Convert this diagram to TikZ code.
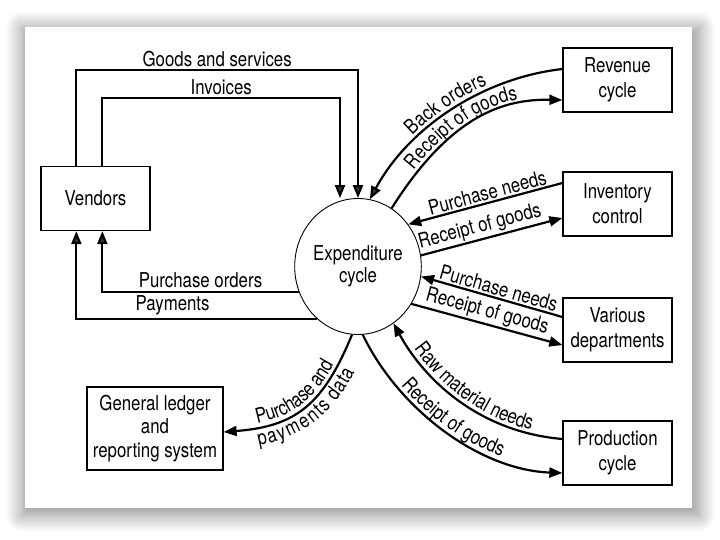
\documentclass[tikz,border=0pt]{standalone}
\usepackage{fontspec}
\setmainfont{TeX Gyre Heros}[FakeStretch=0.82]
\usetikzlibrary{arrows.meta,shapes.geometric,decorations.text,shadows.blur}
\newcommand\lblfont{\fontsize{20.5}{25}\selectfont}
\begin{document}
\begin{tikzpicture}[x=1pt,y=-1pt,
  box/.style={draw, line width=1.3pt, minimum width=109pt, minimum height=64pt, inner sep=0pt, align=center, font=\lblfont},
  flow/.style={line width=2.2pt, -{Triangle[length=13pt,width=10pt]}},
  lbl/.style={font=\lblfont, inner sep=1.5pt}]
\useasboundingbox (0,0) rectangle (720,540);
% panel with shadow
\fill[white, blur shadow={shadow xshift=2pt, shadow yshift=-4pt, shadow scale=1.015, shadow blur radius=16pt, shadow blur steps=16, shadow opacity=45}] (25,27) rectangle (692,508);

% nodes
\node[box] (vendors) at (95.5,198.5) {Vendors};
\node[box] (revenue) at (617.5,80) {Revenue\\cycle};
\node[box] (inventory) at (617.5,204) {Inventory\\control};
\node[box] (various) at (617.5,330) {Various\\departments};
\node[box] (production) at (617.5,453) {Production\\cycle};
\node[box, minimum width=136pt, minimum height=83pt, font=\fontsize{20.5}{23.5}\selectfont] (gl) at (155,428.5) {General ledger\\and\\reporting system};
\node[ellipse, draw, line width=0.9pt, minimum width=124pt, minimum height=136pt, inner sep=0pt, align=center, font=\fontsize{20.5}{22.5}\selectfont] (exp) at (358,266.5) {Expenditure\\cycle};

% vendor flows
\draw[flow] ([xshift=36pt]vendors.north west) |- (358,70) node[lbl, pos=0.75, above=1pt] {Goods and services} -- (exp.north);
\draw[flow] ([xshift=62pt]vendors.north west) |- (340,98) node[lbl, pos=0.75, above=1pt] {Invoices} -- ([xshift=-18pt]exp.north);
\draw[flow] (exp.203) -| node[lbl, pos=0.25, above=1pt] {Purchase orders} ([xshift=62pt]vendors.south west);
\draw[flow] (exp.232) -| node[lbl, pos=0.3, above=1pt] {Payments} ([xshift=36pt]vendors.south west);

% revenue cycle
\draw[flow] ([yshift=11pt]revenue.west) .. controls (483,78) and (409,127) .. (exp.80);
\path[decorate, decoration={text along path, text={|\lblfont|Back orders}, text align=center, raise=5pt}]
  (exp.80) .. controls (409,127) and (483,78) .. ([yshift=11pt]revenue.west);
\draw[flow] (exp.60) .. controls (451.5,113.5) and (505,99) .. ([yshift=-20pt]revenue.west);
\path[decorate, decoration={text along path, text={|\lblfont|Receipt of goods}, text align=center, raise=4pt}]
  (exp.60) .. controls (451.5,113.5) and (505,99) .. ([yshift=-20pt]revenue.west);

% inventory control
\draw[flow] ([yshift=21pt]inventory.west) -- node[lbl, sloped, above, pos=0.47] {Purchase needs} (exp.40);
\draw[flow] (exp.10) -- node[lbl, sloped, above, pos=0.44] {Receipt of goods} ([yshift=-14pt]inventory.west);

% various departments
\draw[flow] ([yshift=13pt]various.west) -- node[lbl, sloped, above, pos=0.47] {Purchase needs} (exp.351);
\draw[flow] (exp.325) -- node[lbl, sloped, above, pos=0.48] {Receipt of goods} ([yshift=-15pt]various.west);

% production cycle
\draw[flow] ([yshift=14pt]production.west) .. controls (480,432) and (425,381) .. (exp.302);
\path[decorate, decoration={text along path, text={|\lblfont|Raw material needs}, text align=center, raise=4pt}]
  (exp.302) .. controls (425,381) and (480,432) .. ([yshift=14pt]production.west);
\draw[flow] (exp.274) .. controls (399,410) and (480,470) .. ([yshift=-20pt]production.west);
\path[decorate, decoration={text along path, text={|\lblfont|Receipt of goods}, text align=center, raise=4pt}]
  (exp.274) .. controls (399,410) and (480,470) .. ([yshift=-20pt]production.west);

% general ledger
\draw[flow] (exp.265) .. controls (322.75,405.75) and (295,426.4) .. ([yshift=-3.5pt]gl.east);
\path[decorate, decoration={text along path, text={|\lblfont|Purchase and}, text align=center, raise=4pt}]
  ([yshift=-3.5pt]gl.east) .. controls (295,426.4) and (322.75,405.75) .. (exp.265);
\path[decorate, decoration={text along path, text={|\lblfont|payments data}, text align=center, raise=-18pt}]
  ([yshift=-3.5pt]gl.east) .. controls (295,426.4) and (322.75,405.75) .. (exp.265);
\end{tikzpicture}
\end{document}
